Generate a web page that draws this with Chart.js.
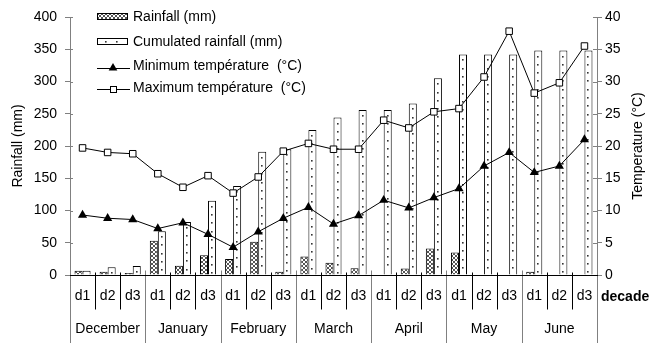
<!DOCTYPE html>
<html><head><meta charset="utf-8">
<script src="https://cdn.jsdelivr.net/npm/chart.js@4/dist/chart.umd.min.js"></script>
<style>html,body{margin:0;padding:0;background:#fff;}#wrap{width:653px;height:343px;}</style>
</head><body><div id="wrap"><canvas id="c" width="653" height="343"></canvas></div>
<script>
const decades = ['d1','d2','d3','d1','d2','d3','d1','d2','d3','d1','d2','d3','d1','d2','d3','d1','d2','d3','d1','d2','d3'];
const months = ['December','January','February','March','April','May','June'];
const rainfall = [6.5, 5, 3, 53, 14.5, 30.5, 25, 51.5, 5, 28.5, 19, 10.5, 0, 10, 41, 35, 0, 0, 5, 0, 0];
const cumulated = [6.5, 12, 14, 68, 82, 115, 138, 191, 195, 225, 244, 256, 256, 266, 305, 342, 342, 342, 348, 348, 348];
const minTemp = [9.3, 8.8, 8.6, 7.2, 8.1, 6.3, 4.3, 6.7, 8.8, 10.5, 7.9, 9.2, 11.6, 10.4, 12.0, 13.4, 16.9, 19.0, 15.9, 16.9, 21.0];
const maxTemp = [19.7, 19.0, 18.8, 15.7, 13.6, 15.4, 12.7, 15.2, 19.2, 20.4, 19.5, 19.5, 24.0, 22.8, 25.3, 25.8, 30.7, 37.8, 28.2, 29.8, 35.5];
const rainTicks = [0, 50, 100, 150, 200, 250, 300, 350, 400];
const tempTicks = [0, 5, 10, 15, 20, 25, 30, 35, 40];

const FONT = "'Liberation Sans', Arial, sans-serif";
Chart.defaults.font.family = FONT;
Chart.defaults.font.size = 14;
Chart.defaults.color = '#000';

// month label row: month name under the middle decade
const monthRow = decades.map((d, i) => (i % 3 === 1 ? months[Math.floor(i / 3)] : ''));

function hatchPattern() {
  const c = document.createElement('canvas');
  c.width = 4; c.height = 4;
  const g = c.getContext('2d');
  g.fillStyle = '#fff'; g.fillRect(0, 0, 4, 4);
  g.strokeStyle = '#555'; g.lineWidth = 1;
  g.beginPath(); g.moveTo(0, 0); g.lineTo(4, 4); g.moveTo(4, 0); g.lineTo(0, 4); g.stroke();
  return document.getElementById('c').getContext('2d').createPattern(c, 'repeat');
}
const hatch = hatchPattern();

function triangle(ctx, x, y, r) {
  ctx.beginPath();
  ctx.moveTo(x, y - r);
  ctx.lineTo(x + r * 0.866, y + r * 0.5);
  ctx.lineTo(x - r * 0.866, y + r * 0.5);
  ctx.closePath(); ctx.fill();
}

const decor = {
  id: 'decor',
  afterDatasetDraw(chart, args) {
    if (args.index !== 1) return;
    const ctx = chart.ctx;
    ctx.save(); ctx.fillStyle = '#333';
    args.meta.data.forEach(bar => {
      for (let y = bar.y + 5; y < bar.base - 2; y += 8.3) {
        ctx.fillRect(Math.round(bar.x) - 1, Math.round(y), 1.6, 1.6);
      }
    });
    ctx.restore();
  },
  afterDraw(chart) {
    const ctx = chart.ctx;
    const xs = chart.scales.x, ys = chart.scales.y, ys1 = chart.scales.y1;
    const base = Math.round(chart.chartArea.bottom) + 0.5;
    const H = chart.height;
    ctx.save();
    ctx.lineWidth = 1;
    // inner part of y ticks
    ctx.strokeStyle = '#808080';
    rainTicks.forEach(v => {
      const p = Math.round(ys.getPixelForValue(v)) + 0.5;
      ctx.beginPath(); ctx.moveTo(ys.right, p); ctx.lineTo(ys.right + 3, p); ctx.stroke();
    });
    tempTicks.forEach(v => {
      const p = Math.round(ys1.getPixelForValue(v)) + 0.5;
      ctx.beginPath(); ctx.moveTo(ys1.left, p); ctx.lineTo(ys1.left - 4, p); ctx.stroke();
    });
    // separators
    const n = decades.length;
    for (let i = 0; i <= n; i++) {
      let px;
      if (i === 0) px = xs.left; else if (i === n) px = xs.right;
      else px = (xs.getPixelForValue(i - 1) + xs.getPixelForValue(i)) / 2;
      px = Math.round(px) + 0.5;
      ctx.beginPath();
      if (i % 3 === 0) { ctx.strokeStyle = '#808080'; ctx.moveTo(px, base - 5); ctx.lineTo(px, H); }
      else { ctx.strokeStyle = '#000'; ctx.moveTo(px, base - 3); ctx.lineTo(px, base + 34); }
      ctx.stroke();
    }
    // x axis line
    ctx.strokeStyle = '#000';
    ctx.beginPath(); ctx.moveTo(xs.left, base); ctx.lineTo(xs.right + 1, base); ctx.stroke();

    // decade label
    ctx.fillStyle = '#000';
    ctx.font = "bold 14px " + FONT;
    ctx.textAlign = 'left'; ctx.textBaseline = 'middle';
    ctx.fillText('decade', 601, 297);

    // right axis title
    ctx.font = "14px " + FONT;
    ctx.save();
    ctx.translate(638, (chart.chartArea.top + chart.chartArea.bottom) / 2);
    ctx.rotate(-Math.PI / 2);
    ctx.textAlign = 'center';
    ctx.fillText(chart.options.scales.y1.title.text, 0, 0);
    ctx.restore();

    // legend
    const ds = chart.data.datasets;
    const lx = 97, lw = 30, tx = 133;
    ctx.textAlign = 'left'; ctx.textBaseline = 'middle';
    // rainfall
    ctx.fillStyle = hatch; ctx.fillRect(lx, 13.5, lw, 6);
    ctx.strokeStyle = '#000'; ctx.strokeRect(lx + 0.5, 13.5, lw, 6);
    ctx.fillStyle = '#000'; ctx.fillText(ds[0].label, tx, 17);
    // cumulated
    ctx.fillStyle = '#fff'; ctx.fillRect(lx, 38, lw, 6);
    ctx.strokeRect(lx + 0.5, 38.5, lw, 6);
    ctx.fillStyle = '#333';
    [105, 116].forEach(dx => ctx.fillRect(dx, 41, 1.6, 1.6));
    ctx.fillStyle = '#000'; ctx.fillText(ds[1].label, tx, 42);
    // min temp
    ctx.beginPath(); ctx.moveTo(lx, 68.5); ctx.lineTo(lx + 33, 68.5); ctx.stroke();
    triangle(ctx, lx + 16, 68, 5);
    ctx.fillText(ds[2].label, tx, 66.5);
    // max temp
    ctx.beginPath(); ctx.moveTo(lx, 89.5); ctx.lineTo(lx + 33, 89.5); ctx.stroke();
    ctx.fillStyle = '#fff'; ctx.fillRect(lx + 13, 86.5, 6, 6);
    ctx.strokeRect(lx + 13.5, 86.5, 6, 6);
    ctx.fillStyle = '#000'; ctx.fillText(ds[3].label, tx, 88.5);
    ctx.restore();
  }
};

new Chart(document.getElementById('c'), {
  type: 'bar',
  data: {
    labels: decades,
    datasets: [
      { label: 'Rainfall (mm)', data: rainfall, backgroundColor: hatch, borderColor: '#000', borderWidth: 1, yAxisID: 'y', order: 1 },
      { label: 'Cumulated rainfall (mm)', data: cumulated, backgroundColor: '#fff', borderColor: '#000', borderWidth: 1, yAxisID: 'y', order: 1 },
      { type: 'line', label: 'Minimum température  (°C)', data: minTemp, yAxisID: 'y1', order: 0,
        borderColor: '#000', borderWidth: 1, tension: 0, pointStyle: 'triangle', pointRadius: 5.3,
        pointBackgroundColor: '#000', pointBorderColor: '#000', pointBorderWidth: 0 },
      { type: 'line', label: 'Maximum température  (°C)', data: maxTemp, yAxisID: 'y1', order: 0,
        borderColor: '#000', borderWidth: 1, tension: 0, pointStyle: 'rect', pointRadius: 4.6,
        pointBackgroundColor: '#fff', pointBorderColor: '#000', pointBorderWidth: 1 }
    ]
  },
  options: {
    responsive: false, animation: false, devicePixelRatio: 1,
    layout: { padding: { top: 17, left: 0, right: 0, bottom: 0 } },
    datasets: { bar: { categoryPercentage: 0.64, barPercentage: 1.0 } },
    plugins: { legend: { display: false }, tooltip: { enabled: false } },
    scales: {
      x: {
        type: 'category', position: 'bottom', weight: 0, offset: true,
        grid: { display: false, drawTicks: false }, border: { display: false },
        ticks: { autoSkip: false, maxRotation: 0, padding: 13 },
        afterFit: s => { s.height = 35; }
      },
      x2: {
        type: 'category', labels: monthRow, position: 'bottom', weight: 1, offset: true,
        grid: { display: false, drawTicks: false }, border: { display: false },
        ticks: { autoSkip: false, maxRotation: 0, padding: 11 },
        afterFit: s => { s.height = 33; }
      },
      y: {
        position: 'left', min: 0, max: 400,
        afterBuildTicks: s => { s.ticks = rainTicks.map(v => ({ value: v })); },
        grid: { drawOnChartArea: false, tickLength: 5, color: '#808080' },
        border: { color: '#808080' },
        ticks: { padding: 8 },
        title: { display: true, text: 'Rainfall (mm)', padding: { top: 10, bottom: 0 } },
        afterFit: s => { s.width = 70; }
      },
      y1: {
        position: 'right', min: 0, max: 40,
        afterBuildTicks: s => { s.ticks = tempTicks.map(v => ({ value: v })); },
        grid: { drawOnChartArea: false, tickLength: 5, color: '#808080' },
        border: { color: '#808080' },
        ticks: { padding: 3 },
        title: { display: false, text: 'Temperature (°C)' },
        afterFit: s => { s.width = 56; }
      }
    }
  },
  plugins: [decor]
});
</script>
</body></html>
